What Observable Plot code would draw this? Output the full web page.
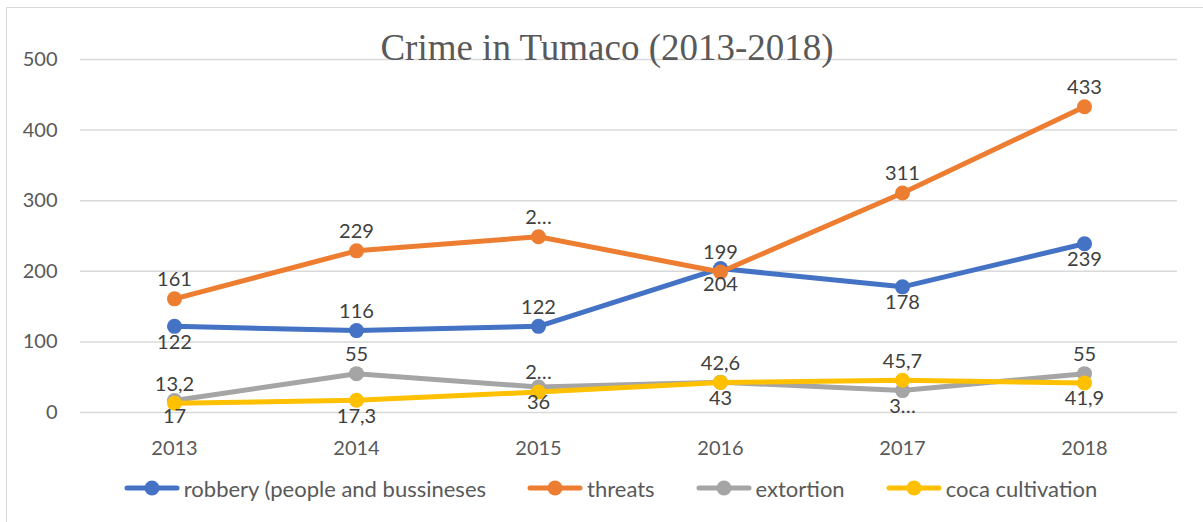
<!DOCTYPE html>
<html><head><meta charset="utf-8">
<script src="https://cdn.jsdelivr.net/npm/d3@7"></script>
<script src="https://cdn.jsdelivr.net/npm/@observablehq/plot@0.6"></script>
<style>
body{margin:0;background:#fff;}
#wrap{position:relative;width:1203px;height:522px;overflow:hidden;font-family:Lato,sans-serif;}
#frame{position:absolute;left:6px;top:7px;right:-10px;bottom:-10px;border-left:1.5px solid #d9d9d9;border-top:1.5px solid #d9d9d9;}
#chart{position:absolute;left:0;top:0;}
#title{position:absolute;left:0;width:1214px;top:29px;text-align:center;font-family:"Liberation Serif","Times New Roman",Tinos,"DejaVu Serif",serif;font-size:37px;line-height:1;color:#595959;white-space:nowrap;}
#legend{position:absolute;top:476px;left:0;width:1221px;height:24px;display:flex;justify-content:center;align-items:center;gap:41px;font-size:22px;color:#595959;}
.item{display:flex;align-items:center;gap:4px;white-space:nowrap;}
</style>
</head><body>
<div id="wrap"><div id="frame"></div><div id="chart"></div><div id="title"></div><div id="legend"></div></div>
<script>
const titleText = "Crime in Tumaco (2013-2018)";
const years = [2013, 2014, 2015, 2016, 2017, 2018];
const yTicks = [0, 100, 200, 300, 400, 500];
const seriesNames = ["robbery (people and bussineses", "threats", "extortion", "coca cultivation"];
const seriesColors = ["#4472C4", "#ED7D31", "#A5A5A5", "#FFC000"];

const robbery = [122, 116, 122, 204, 178, 239];
const threats = [161, 229, 249, 199, 311, 433];
const extortion = [17, 55, 36, 43, 31, 55];
const coca = [13.2, 17.3, 29, 42.6, 45.7, 41.9];

const robberyLabels = ["122", "116", "122", "204", "178", "239"];
const threatsLabels = ["161", "229", "2…", "199", "311", "433"];
const extortionLabels = ["17", "55", "36", "43", "3…", "55"];
const cocaLabels = ["13,2", "17,3", "2…", "42,6", "45,7", "41,9"];

const robberySide = ["below", "above", "above", "below", "below", "below"];
const threatsSide = ["above", "above", "above", "above", "above", "above"];
const extortionSide = ["below", "above", "below", "below", "below", "above"];
const cocaSide = ["above", "below", "above", "above", "above", "below"];

const values = [robbery, threats, extortion, coca];
const labels = [robberyLabels, threatsLabels, extortionLabels, cocaLabels];
const sides = [robberySide, threatsSide, extortionSide, cocaSide];

const rows = [];
seriesNames.forEach((s, i) => years.forEach((y, j) => rows.push({series: s, year: y, value: values[i][j], label: labels[i][j], side: sides[i][j]})));

document.getElementById("title").textContent = titleText;

const marks = [
  Plot.gridY(yTicks, {stroke: "#d9d9d9", strokeOpacity: 1, strokeWidth: 1.5}),
  Plot.axisX({tickSize: 0, tickPadding: 28, fontSize: 20, label: null, tickFormat: d => String(d)}),
  Plot.axisY(yTicks, {tickSize: 0, tickPadding: 23, fontSize: 20, label: null})
];
seriesNames.forEach(s => {
  const d = rows.filter(r => r.series === s);
  marks.push(Plot.line(d, {x: "year", y: "value", stroke: "series", strokeWidth: 5, strokeLinejoin: "round", strokeLinecap: "round"}));
  marks.push(Plot.dot(d, {x: "year", y: "value", fill: "series", r: 7.5, stroke: "none"}));
});
marks.push(Plot.text(rows.filter(r => r.side === "above"), {x: "year", y: "value", text: "label", dy: -19, fill: "#404040", fontSize: 20}));
marks.push(Plot.text(rows.filter(r => r.side === "below"), {x: "year", y: "value", text: "label", dy: 16, fill: "#404040", fontSize: 20}));

const chart = Plot.plot({
  width: 1203, height: 470,
  marginLeft: 80, marginRight: 26, marginTop: 59, marginBottom: 58,
  x: {type: "point", domain: years, padding: 0.5},
  y: {domain: [0, 500]},
  color: {domain: seriesNames, range: seriesColors},
  style: {fontFamily: "Lato, sans-serif", fontSize: "20px", color: "#595959", background: "transparent"},
  marks
});
document.getElementById("chart").appendChild(chart);

const legend = document.getElementById("legend");
seriesNames.forEach((s, i) => {
  const item = document.createElement("div");
  item.className = "item";
  item.innerHTML = `<svg width="56" height="18"><line x1="3" y1="9" x2="53" y2="9" stroke="${seriesColors[i]}" stroke-width="5" stroke-linecap="round"/><circle cx="28" cy="9" r="7.5" fill="${seriesColors[i]}"/></svg><span></span>`;
  item.querySelector("span").textContent = s;
  legend.appendChild(item);
});
</script>
</body></html>
